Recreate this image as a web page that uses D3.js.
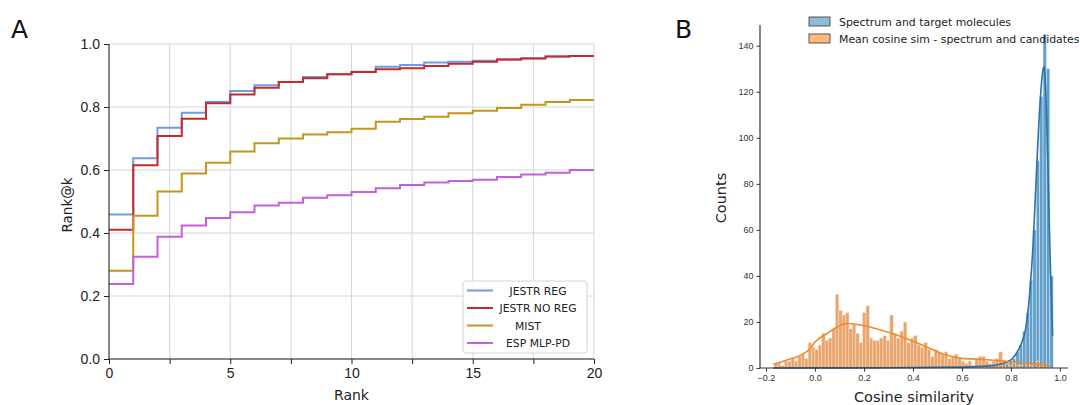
<!DOCTYPE html>
<html>
<head>
<meta charset="UTF-8">
<title>Rank@k and cosine similarity</title>
<script src="https://d3js.org/d3.v7.min.js"></script>
<style>
  body { margin: 0; background: #fff; }
  svg { font-family: "DejaVu Sans", sans-serif; }
  .grid line { stroke: #d6d6d6; stroke-width: 1; }
  .axA path, .axA line { stroke: #222; }
  .axA text { font-size: 14px; fill: #222; }
  .axB path, .axB line { stroke: #333; }
  .axB text { font-size: 9px; fill: #333; }
</style>
</head>
<body>
<svg width="1080" height="405"></svg>
<script>
// ---- panel A : Rank@k for k = 1..20 (drawn as steps starting at rank 0)
const ranks = d3.range(0, 20);
const jestrReg   = [0.459, 0.637, 0.734, 0.782, 0.816, 0.851, 0.869, 0.879, 0.895, 0.904, 0.912, 0.928, 0.933, 0.941, 0.944, 0.947, 0.951, 0.955, 0.960, 0.962];
const jestrNoReg = [0.410, 0.615, 0.708, 0.763, 0.812, 0.840, 0.861, 0.879, 0.891, 0.904, 0.911, 0.920, 0.923, 0.930, 0.937, 0.944, 0.951, 0.954, 0.960, 0.962];
const mist       = [0.280, 0.455, 0.532, 0.589, 0.623, 0.659, 0.685, 0.700, 0.713, 0.720, 0.731, 0.753, 0.762, 0.769, 0.780, 0.788, 0.797, 0.807, 0.816, 0.822];
const espMlp     = [0.238, 0.325, 0.388, 0.424, 0.448, 0.466, 0.487, 0.496, 0.512, 0.520, 0.530, 0.542, 0.552, 0.560, 0.565, 0.569, 0.578, 0.586, 0.591, 0.600];
const seriesNames = ["JESTR REG", "JESTR NO REG", "MIST", "ESP MLP-PD"];
const seriesColors = ["#6f9be8", "#c42a2e", "#c4961c", "#c460dc"];
const xTicksA = [0, 5, 10, 15, 20];
const yTicksA = [0, 0.2, 0.4, 0.6, 0.8, 1.0];

// ---- panel B : histograms (shared bins) + KDE curves
const binStart = -0.167, binWidth = 0.0139;
const candCounts = [2, 2, 1, 3, 3, 4, 3, 5, 6, 4, 11, 9, 8, 10, 15, 12, 13, 17, 32, 25,
  23, 24, 17, 19, 15, 11, 24, 27, 13, 12, 12, 13, 14, 12, 23, 15, 13, 16, 20, 11,
  13, 14, 10, 9, 11, 8, 5, 8, 7, 6, 7, 4, 5, 6, 4, 3, 2, 3, 1, 4,
  5, 5, 3, 2, 3, 4, 7, 2, 2, 1, 2, 1, 1, 0, 2, 1, 0, 3, 1, 0, 1, 0];
const targetCounts = [0, 0, 0, 0, 0, 0, 0, 0, 0, 0, 0, 0, 0, 0, 0, 0, 0, 0, 0, 0,
  0, 0, 0, 0, 0, 0, 0, 0, 0, 0, 0, 0, 0, 0, 0, 0, 0, 0, 0, 0,
  0, 0, 0, 0, 0, 0, 0, 0, 0, 0, 0, 0, 0, 0, 0, 0, 0, 0, 0, 0,
  1, 0, 1, 1, 1, 2, 1, 2, 3, 3, 4, 7, 10, 16, 24, 38, 60, 90, 118, 145, 130, 40];
const candKdeX = [-0.17, -0.12, -0.06, -0.02, 0.0, 0.05, 0.09, 0.13, 0.18, 0.24, 0.27, 0.32, 0.37, 0.43, 0.48, 0.54, 0.59, 0.67, 0.74, 0.81, 0.88, 0.96];
const candKdeY = [1.6, 3.3, 5.5, 8.4, 11.3, 15, 17.8, 19.3, 18.8, 17.4, 16.4, 14.9, 12.8, 10.3, 8.0, 5.5, 4.3, 3.8, 3.3, 2.6, 1.9, 0.9];
const targetKdeX = [-0.17, 0.3, 0.6, 0.7, 0.75, 0.78, 0.80, 0.82, 0.84, 0.86, 0.87, 0.88, 0.89, 0.90, 0.91, 0.92, 0.93, 0.935, 0.94, 0.95, 0.96, 0.97];
const targetKdeY = [0, 0.1, 0.4, 0.8, 1.5, 2.5, 3.5, 6, 10, 17, 25, 37, 53, 75, 98, 117, 129, 131, 125, 92, 48, 14];
const histNames = ["Spectrum and target molecules", "Mean cosine sim - spectrum and candidates"];
const xTicksB = [-0.2, 0.0, 0.2, 0.4, 0.6, 0.8, 1.0];
const yTicksB = [0, 20, 40, 60, 80, 100, 120, 140];

const svg = d3.select("svg");

// ================= panel A =================
const xA = d3.scaleLinear().domain([0, 20]).range([109, 594]);
const yA = d3.scaleLinear().domain([0, 1]).range([359, 44]);

const gA = svg.append("g");

gA.append("g").attr("class", "grid")
  .selectAll("line").data(d3.range(0, 20.01, 2.5)).join("line")
  .attr("x1", d => xA(d)).attr("x2", d => xA(d))
  .attr("y1", yA(0)).attr("y2", yA(1));
gA.append("g").attr("class", "grid")
  .selectAll("line").data(yTicksA).join("line")
  .attr("x1", xA(0)).attr("x2", xA(20))
  .attr("y1", d => yA(d)).attr("y2", d => yA(d));

const lineA = d3.line()
  .x(d => xA(d[0])).y(d => yA(d[1]))
  .curve(d3.curveStepAfter);

[jestrReg, jestrNoReg, mist, espMlp].forEach((vals, i) => {
  const pts = ranks.map(r => [r, vals[r]]);
  pts.push([20, vals[vals.length - 1]]);
  gA.append("path")
    .attr("d", lineA(pts))
    .attr("fill", "none")
    .attr("stroke", seriesColors[i])
    .attr("stroke-width", 2);
});

gA.append("g").attr("class", "axA")
  .attr("transform", `translate(0,${yA(0)})`)
  .call(d3.axisBottom(xA).tickValues(d3.range(0, 20.01, 2.5)).tickSize(5).tickPadding(4)
    .tickFormat(d => xTicksA.includes(d) ? d : ""))
  .call(g => g.select(".domain").attr("d", `M${xA(0)},0H${xA(20)}`));
gA.append("g").attr("class", "axA")
  .attr("transform", `translate(${xA(0)},0)`)
  .call(d3.axisLeft(yA).tickValues(yTicksA).tickSize(5).tickPadding(4).tickFormat(d3.format(".1f")))
  .call(g => g.select(".domain").attr("d", `M0,${yA(0)}V${yA(1)}`));

gA.append("text").attr("x", xA(10)).attr("y", 400)
  .attr("text-anchor", "middle").attr("font-size", 14).attr("fill", "#222").text("Rank");
gA.append("text").attr("transform", `translate(72,205) rotate(-90)`)
  .attr("text-anchor", "middle").attr("font-size", 13.5).attr("fill", "#222").text("Rank@k");
svg.append("text").attr("x", 11).attr("y", 38).attr("font-size", 25).attr("fill", "#111").text("A");

// legend A
const legA = gA.append("g").attr("transform", "translate(463,281)");
legA.append("rect").attr("width", 124).attr("height", 72).attr("rx", 3)
  .attr("fill", "#fff").attr("fill-opacity", 0.85).attr("stroke", "#d4d4d4");
seriesNames.forEach((name, i) => {
  const y = 9.5 + i * 17.5;
  legA.append("line").attr("x1", 4).attr("x2", 30).attr("y1", y).attr("y2", y)
    .attr("stroke", seriesColors[i]).attr("stroke-width", 2);
  legA.append("text").attr("x", name === "MIST" ? 65 : 75).attr("y", y + 4)
    .attr("text-anchor", "middle").attr("font-size", 10.8).attr("fill", "#222").text(name);
});

// ================= panel B =================
const xB = d3.scaleLinear().domain([-0.2245, 1.033]).range([760, 1068]);
const yB = d3.scaleLinear().domain([0, 149]).range([368, 25]);
const gB = svg.append("g");

function drawHist(counts, fill, edge) {
  gB.append("g").selectAll("rect").data(counts).join("rect")
    .attr("x", (d, i) => xB(binStart + i * binWidth))
    .attr("width", xB(binStart + binWidth) - xB(binStart))
    .attr("y", d => yB(d))
    .attr("height", d => yB(0) - yB(d))
    .attr("fill", fill)
    .attr("stroke", edge).attr("stroke-width", 0.6);
}
drawHist(targetCounts, "rgba(31,119,180,0.7)", "rgba(230,240,250,0.8)");
drawHist(candCounts, "rgba(225,135,60,0.75)", "rgba(250,225,200,0.9)");

const kde = d3.line().x(d => xB(d[0])).y(d => yB(d[1])).curve(d3.curveMonotoneX);
gB.append("path").attr("d", kde(targetKdeX.map((x, i) => [x, targetKdeY[i]])))
  .attr("fill", "none").attr("stroke", "#2a72ad").attr("stroke-width", 1.6);
gB.append("path").attr("d", kde(candKdeX.map((x, i) => [x, candKdeY[i]])))
  .attr("fill", "none").attr("stroke", "#f28a2c").attr("stroke-width", 1.6);

gB.append("g").attr("class", "axB")
  .attr("transform", `translate(0,${yB(0)})`)
  .call(d3.axisBottom(xB).tickValues(xTicksB).tickSize(3.5).tickPadding(3).tickFormat(d3.format(".1f")))
  .call(g => g.select(".domain").attr("d", `M${xB.range()[0]},0H${xB.range()[1]}`).attr("stroke-width", 1.2))
  .call(g => g.selectAll("text").text(d => d3.format(".1f")(d).replace("-", "\u2212")));
gB.append("g").attr("class", "axB")
  .attr("transform", `translate(${xB.range()[0]},0)`)
  .call(d3.axisLeft(yB).tickValues(yTicksB).tickSize(3.5).tickPadding(3))
  .call(g => g.select(".domain").attr("d", `M0,${yB(0)}V${yB(149)}`).attr("stroke-width", 1.2));

gB.append("text").attr("x", 914).attr("y", 402)
  .attr("text-anchor", "middle").attr("font-size", 14.5).attr("fill", "#222").text("Cosine similarity");
gB.append("text").attr("transform", `translate(726,198) rotate(-90)`)
  .attr("text-anchor", "middle").attr("font-size", 14.5).attr("fill", "#222").text("Counts");
svg.append("text").attr("x", 675).attr("y", 38).attr("font-size", 25).attr("fill", "#111").text("B");

// legend B
const legB = gB.append("g").attr("transform", "translate(809,17)");
const legFills = ["rgba(31,119,180,0.5)", "rgba(255,127,14,0.55)"];
histNames.forEach((name, i) => {
  legB.append("rect").attr("x", 0).attr("y", i * 17).attr("width", 21).attr("height", 9)
    .attr("fill", legFills[i]).attr("stroke", "#333").attr("stroke-width", 0.8);
  legB.append("text").attr("x", 30).attr("y", i * 17 + 8.5)
    .attr("font-size", 10.9).attr("fill", "#222").text(name);
});
</script>
</body>
</html>
